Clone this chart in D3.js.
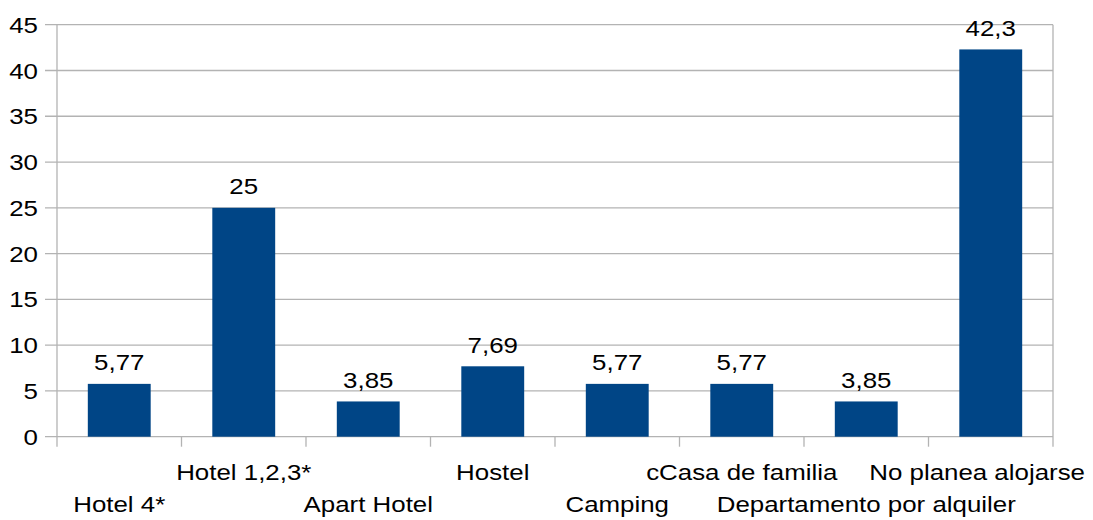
<!DOCTYPE html>
<html>
<head>
<meta charset="utf-8">
<script src="https://cdn.jsdelivr.net/npm/d3@7"></script>
<style>
  body { margin: 0; background: #fff; }
  text { font-family: "Liberation Sans", Arial, sans-serif; fill: #000; font-size: 22.5px; }
</style>
</head>
<body>
<div id="chart-area"></div>
<script>
// data
const categories = ["Hotel 4*", "Hotel 1,2,3*", "Apart Hotel", "Hostel", "Camping",
  "cCasa de familia", "Departamento por alquiler", "No planea alojarse"]
const values = [5.77, 25, 3.85, 7.69, 5.77, 5.77, 3.85, 42.3]
const valueLabels = ["5,77", "25", "3,85", "7,69", "5,77", "5,77", "3,85", "42,3"]
const yTicks = [0, 5, 10, 15, 20, 25, 30, 35, 40, 45]

const W = 1093, H = 520
const MARGIN = { LEFT: 57, RIGHT: 40, TOP: 24.7, BOTTOM: 83.3 }
const WIDTH = W - MARGIN.LEFT - MARGIN.RIGHT
const HEIGHT = H - MARGIN.TOP - MARGIN.BOTTOM
const GRID = "#b3b3b3"
const SX = 1.15 // text in the reference is stretched horizontally

const svg = d3.select("#chart-area").append("svg")
  .attr("width", W)
  .attr("height", H)

const g = svg.append("g")
  .attr("transform", `translate(${MARGIN.LEFT}, ${MARGIN.TOP})`)

const x = d3.scaleBand().domain(categories).range([0, WIDTH])
const y = d3.scaleLinear().domain([0, 45]).range([HEIGHT, 0])

const place = (px, py) => `translate(${px}, ${py}) scale(${SX}, 1)`

// horizontal gridlines + y tick marks
g.selectAll(".grid").data(yTicks).enter().append("line")
  .attr("x1", -12).attr("x2", WIDTH)
  .attr("y1", d => y(d)).attr("y2", d => y(d))
  .attr("stroke", GRID).attr("stroke-width", 1.3)

// y tick labels
g.selectAll(".ylab").data(yTicks).enter().append("text")
  .attr("transform", d => place(-19, y(d)))
  .attr("dy", "0.36em")
  .attr("text-anchor", "end")
  .text(d => d)

// frame verticals
g.append("line").attr("x1", 0).attr("x2", 0).attr("y1", 0).attr("y2", HEIGHT + 10)
  .attr("stroke", GRID).attr("stroke-width", 1.3)
g.append("line").attr("x1", WIDTH).attr("x2", WIDTH).attr("y1", 0).attr("y2", HEIGHT + 10)
  .attr("stroke", GRID).attr("stroke-width", 1.3)

// category ticks at band boundaries
const bounds = categories.slice(1).map(c => x(c))
g.selectAll(".xtick").data(bounds).enter().append("line")
  .attr("x1", d => d).attr("x2", d => d)
  .attr("y1", HEIGHT).attr("y2", HEIGHT + 10)
  .attr("stroke", GRID).attr("stroke-width", 1.3)

// bars
const barW = x.bandwidth() * 0.505
g.selectAll(".bar").data(values).enter().append("rect")
  .attr("x", (d, i) => x(categories[i]) + (x.bandwidth() - barW) / 2)
  .attr("y", d => y(d))
  .attr("width", barW)
  .attr("height", d => HEIGHT - y(d))
  .attr("fill", "#004586")

// value labels
g.selectAll(".vlab").data(values).enter().append("text")
  .attr("transform", (d, i) => place(x(categories[i]) + x.bandwidth() / 2, y(d) - 13.5))
  .attr("text-anchor", "middle")
  .text((d, i) => valueLabels[i])

// category labels, staggered; keep them inside the picture
const maxRight = W - 8 - MARGIN.LEFT
g.selectAll(".xlab").data(categories).enter().append("text")
  .attr("text-anchor", "middle")
  .text(d => d)
  .attr("transform", function(d, i) {
    const half = this.getComputedTextLength() * SX / 2
    let cx = x(d) + x.bandwidth() / 2
    if (cx + half > maxRight) cx = maxRight - half
    return place(cx, i % 2 === 0 ? HEIGHT + 75 : HEIGHT + 43.5)
  })
</script>
</body>
</html>
